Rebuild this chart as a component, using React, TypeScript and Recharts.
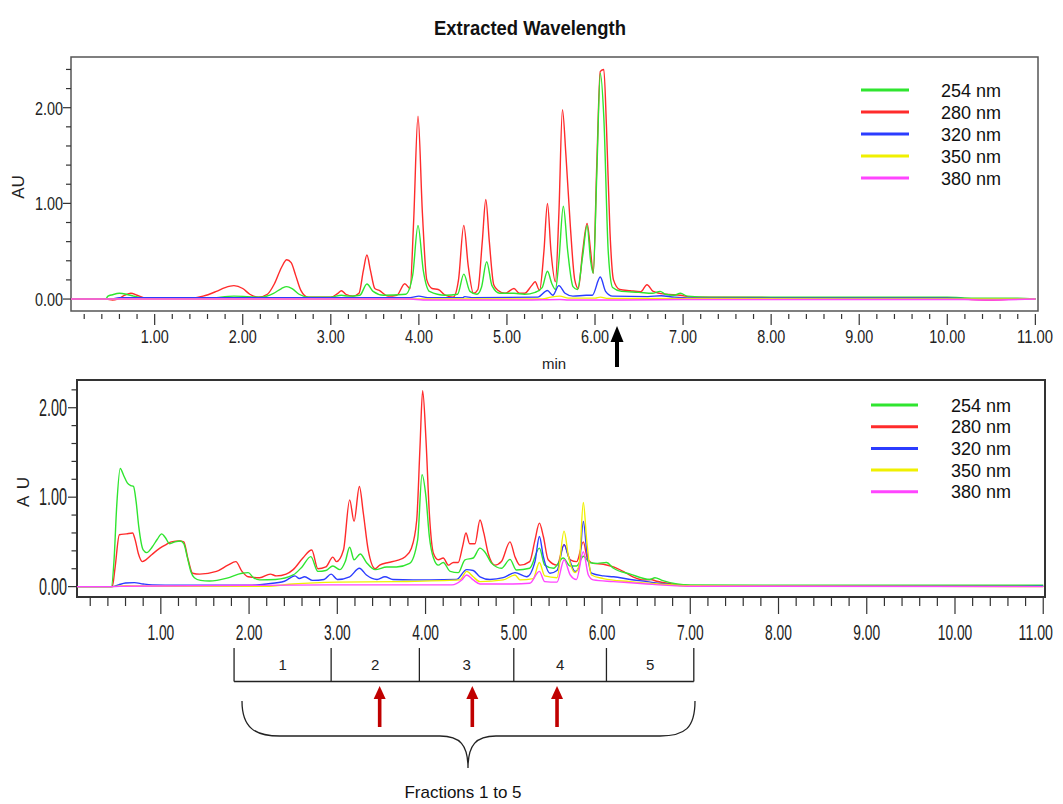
import React from 'react';
import { LineChart, Line, XAxis, YAxis, ReferenceArea } from 'recharts';

// wavelength channels (legend order)
const wavelengths = ['254 nm', '280 nm', '320 nm', '350 nm', '380 nm'];
const colors = ['#2fe52f', '#ff2b2b', '#2b3cff', '#f0f000', '#ff45ff'];

// ---- top chromatogram: [time (min), absorbance (AU)] ----
const top254 = [
  [0.05, 0], [0.44, 0], [0.47, 0.03], [0.52, 0.045], [0.6, 0.06], [0.68, 0.05], [0.76, 0.03], [0.85, 0.015],
  [1.0, 0.01], [1.6, 0.01], [1.9, 0.03], [2.2, 0.02], [2.35, 0.06], [2.44, 0.11], [2.5, 0.13], [2.56, 0.11],
  [2.64, 0.05], [2.75, 0.02], [3.0, 0.02], [3.12, 0.04], [3.2, 0.03], [3.33, 0.04], [3.41, 0.157], [3.48, 0.08],
  [3.6, 0.04], [3.85, 0.05], [3.93, 0.25], [3.99, 0.77], [4.05, 0.3], [4.12, 0.08], [4.3, 0.04], [4.44, 0.05],
  [4.51, 0.26], [4.58, 0.08], [4.66, 0.05], [4.71, 0.12], [4.77, 0.39], [4.83, 0.14], [4.92, 0.06], [5.08, 0.06],
  [5.2, 0.05], [5.32, 0.07], [5.4, 0.12], [5.46, 0.29], [5.51, 0.16], [5.55, 0.1], [5.59, 0.4], [5.64, 0.97],
  [5.69, 0.5], [5.75, 0.13], [5.8, 0.1], [5.86, 0.45], [5.91, 0.77], [5.95, 0.4], [5.98, 0.27], [6.02, 1.3],
  [6.06, 2.36], [6.1, 1.9], [6.15, 0.5], [6.2, 0.12], [6.3, 0.08], [6.5, 0.07], [6.65, 0.06], [6.74, 0.08],
  [6.8, 0.05], [6.9, 0.04], [6.97, 0.06], [7.05, 0.03], [7.3, 0.02], [8.0, 0.02], [9.0, 0.02], [10.0, 0.02],
  [10.3, 0.01], [10.8, 0.01], [11.0, 0.0],
];
const top280 = [
  [0.05, 0], [0.45, 0], [0.52, -0.01], [0.58, 0], [0.66, 0.04], [0.73, 0.06], [0.8, 0.04], [0.9, 0.01],
  [1.4, 0.01], [1.55, 0.03], [1.7, 0.08], [1.8, 0.12], [1.9, 0.14], [2.0, 0.11], [2.08, 0.05], [2.18, 0.02],
  [2.28, 0.05], [2.36, 0.16], [2.44, 0.33], [2.5, 0.41], [2.55, 0.38], [2.6, 0.25], [2.66, 0.09], [2.74, 0.02],
  [3.0, 0.02], [3.08, 0.06], [3.12, 0.087], [3.17, 0.05], [3.25, 0.03], [3.32, 0.06], [3.37, 0.3], [3.41, 0.46],
  [3.45, 0.3], [3.5, 0.11], [3.55, 0.09], [3.65, 0.03], [3.75, 0.04], [3.84, 0.16], [3.9, 0.11], [3.94, 0.8],
  [3.99, 1.91], [4.04, 0.9], [4.09, 0.2], [4.15, 0.11], [4.22, 0.1], [4.3, 0.04], [4.39, 0.02], [4.45, 0.2],
  [4.51, 0.77], [4.56, 0.35], [4.62, 0.06], [4.67, 0.1], [4.72, 0.6], [4.76, 1.04], [4.8, 0.6], [4.85, 0.15],
  [4.9, 0.09], [4.98, 0.06], [5.08, 0.11], [5.14, 0.06], [5.2, 0.06], [5.28, 0.14], [5.32, 0.18], [5.37, 0.09],
  [5.42, 0.5], [5.46, 1.0], [5.5, 0.5], [5.55, 0.18], [5.59, 0.9], [5.63, 1.98], [5.67, 1.5], [5.72, 0.76],
  [5.77, 0.2], [5.81, 0.11], [5.86, 0.5], [5.91, 0.79], [5.95, 0.5], [5.98, 0.27], [6.02, 1.4], [6.06, 2.38],
  [6.1, 2.4], [6.13, 1.8], [6.17, 0.7], [6.21, 0.2], [6.28, 0.1], [6.4, 0.087], [6.52, 0.077], [6.59, 0.15],
  [6.66, 0.08], [6.8, 0.05], [6.97, 0.04], [7.1, 0.02], [8.0, 0.015], [9.0, 0.015], [10.0, 0.015], [10.2, 0],
  [10.5, -0.01], [10.8, 0], [11.0, 0],
];
const top320 = [
  [0.05, 0], [0.5, 0], [0.6, 0.015], [1.0, 0.015], [3.9, 0.015], [4.0, 0.03], [4.1, 0.015], [4.5, 0.015],
  [4.52, 0.025], [4.6, 0.015], [5.35, 0.02], [5.46, 0.09], [5.52, 0.04], [5.59, 0.14], [5.66, 0.06], [5.75, 0.03],
  [5.9, 0.04], [5.97, 0.04], [6.06, 0.23], [6.12, 0.08], [6.2, 0.03], [6.6, 0.025], [6.75, 0.035], [6.9, 0.02],
  [7.2, 0.01], [10.0, 0.01], [10.3, 0], [11.0, 0],
];
const top350 = [
  [0.05, 0], [5.4, 0], [5.5, 0.02], [5.6, 0.03], [5.7, 0.01], [6.0, 0.01], [6.06, 0.02], [6.15, 0.005],
  [11.0, 0],
];
const top380 = [
  [0.05, 0], [3.9, 0], [4.05, -0.01], [5.2, -0.01], [5.6, -0.005], [5.7, -0.01], [6.3, -0.01], [7.0, -0.005],
  [10.2, -0.005], [10.4, -0.01], [11.0, 0],
];

// ---- bottom chromatogram ----
const bot254 = [
  [0.05, 0], [0.44, 0], [0.47, 0.3], [0.5, 0.9], [0.54, 1.32], [0.58, 1.24], [0.62, 1.16], [0.66, 1.13],
  [0.69, 1.12], [0.72, 0.95], [0.75, 0.67], [0.8, 0.41], [0.84, 0.38], [0.9, 0.44], [0.96, 0.53], [1.01, 0.59],
  [1.05, 0.55], [1.1, 0.48], [1.16, 0.5], [1.22, 0.51], [1.26, 0.48], [1.3, 0.33], [1.34, 0.17], [1.38, 0.1],
  [1.45, 0.07], [1.55, 0.063], [1.75, 0.095], [1.92, 0.15], [1.99, 0.156], [2.05, 0.1], [2.12, 0.075], [2.3, 0.08],
  [2.5, 0.13], [2.6, 0.22], [2.7, 0.335], [2.78, 0.17], [2.87, 0.18], [2.95, 0.23], [3.03, 0.19], [3.09, 0.28],
  [3.14, 0.44], [3.19, 0.3], [3.26, 0.365], [3.33, 0.27], [3.43, 0.19], [3.56, 0.22], [3.67, 0.22], [3.82, 0.26],
  [3.91, 0.52], [3.96, 1.25], [4.005, 1.0], [4.043, 0.56], [4.09, 0.32], [4.145, 0.24], [4.2, 0.27], [4.28, 0.17],
  [4.37, 0.156], [4.447, 0.3], [4.54, 0.32], [4.617, 0.43], [4.67, 0.39], [4.75, 0.26], [4.86, 0.205], [4.957, 0.305],
  [5.03, 0.186], [5.18, 0.205], [5.29, 0.43], [5.35, 0.24], [5.45, 0.205], [5.56, 0.32], [5.64, 0.23], [5.71, 0.23],
  [5.79, 0.34], [5.86, 0.27], [5.95, 0.26], [6.05, 0.27], [6.13, 0.205], [6.32, 0.14], [6.54, 0.08], [6.6, 0.1],
  [6.68, 0.07], [6.85, 0.03], [7.0, 0.02], [8.0, 0.015], [10.0, 0.015], [11.0, 0.015],
];
const bot280 = [
  [0.05, 0], [0.45, 0], [0.48, 0.2], [0.53, 0.58], [0.61, 0.59], [0.68, 0.6], [0.71, 0.52], [0.745, 0.37],
  [0.79, 0.28], [0.83, 0.3], [0.9, 0.36], [0.99, 0.43], [1.06, 0.47], [1.12, 0.5], [1.21, 0.51], [1.26, 0.5],
  [1.31, 0.3], [1.36, 0.15], [1.44, 0.14], [1.63, 0.17], [1.76, 0.24], [1.85, 0.28], [1.92, 0.17], [1.99, 0.11],
  [2.12, 0.1], [2.24, 0.14], [2.31, 0.12], [2.42, 0.14], [2.5, 0.19], [2.61, 0.32], [2.71, 0.41], [2.78, 0.2],
  [2.87, 0.22], [2.95, 0.33], [2.99, 0.28], [3.07, 0.41], [3.14, 0.97], [3.19, 0.73], [3.25, 1.12], [3.295, 0.82],
  [3.35, 0.41], [3.43, 0.2], [3.48, 0.24], [3.58, 0.27], [3.67, 0.29], [3.77, 0.335], [3.84, 0.43], [3.9, 0.745],
  [3.937, 1.56], [3.967, 2.19], [4.005, 1.64], [4.043, 0.82], [4.09, 0.37], [4.145, 0.3], [4.2, 0.32], [4.26, 0.24],
  [4.315, 0.27], [4.37, 0.27], [4.42, 0.45], [4.458, 0.6], [4.5, 0.48], [4.56, 0.48], [4.617, 0.745], [4.66, 0.6],
  [4.71, 0.37], [4.787, 0.24], [4.86, 0.28], [4.957, 0.5], [5.013, 0.335], [5.07, 0.24], [5.18, 0.28], [5.24, 0.52],
  [5.29, 0.71], [5.335, 0.56], [5.39, 0.3], [5.49, 0.24], [5.57, 0.47], [5.64, 0.3], [5.713, 0.28], [5.788, 0.5],
  [5.833, 0.32], [5.9, 0.26], [6.015, 0.25], [6.13, 0.22], [6.24, 0.17], [6.35, 0.11], [6.47, 0.075], [6.55, 0.08],
  [6.62, 0.06], [6.8, 0.03], [7.0, 0.01], [8.0, 0.005], [10.0, 0.005], [11.0, 0.005],
];
const bot320 = [
  [0.05, 0], [0.45, 0], [0.52, 0.02], [0.6, 0.04], [0.7, 0.045], [0.8, 0.03], [0.9, 0.02], [1.2, 0.015],
  [2.0, 0.015], [2.2, 0.03], [2.4, 0.06], [2.52, 0.12], [2.57, 0.09], [2.63, 0.11], [2.72, 0.07], [2.85, 0.08],
  [2.93, 0.14], [3.0, 0.08], [3.14, 0.11], [3.25, 0.205], [3.33, 0.13], [3.45, 0.08], [3.54, 0.11], [3.63, 0.08],
  [3.86, 0.075], [4.05, 0.075], [4.35, 0.08], [4.466, 0.19], [4.54, 0.18], [4.617, 0.11], [4.73, 0.08], [4.88, 0.1],
  [5.013, 0.156], [5.146, 0.11], [5.24, 0.28], [5.29, 0.56], [5.335, 0.335], [5.41, 0.15], [5.49, 0.18], [5.57, 0.47],
  [5.62, 0.335], [5.695, 0.17], [5.74, 0.22], [5.788, 0.73], [5.826, 0.41], [5.88, 0.15], [6.015, 0.12], [6.13, 0.11],
  [6.32, 0.08], [6.51, 0.056], [6.64, 0.037], [6.8, 0.02], [7.0, 0.01], [11.0, 0.005],
];
const bot350 = [
  [0.05, 0], [0.45, 0], [0.6, 0.01], [1.0, 0.005], [2.2, 0.005], [2.5, 0.03], [3.0, 0.05], [3.67, 0.056],
  [4.39, 0.075], [4.466, 0.17], [4.54, 0.11], [4.617, 0.056], [4.88, 0.075], [5.013, 0.13], [5.07, 0.075], [5.22, 0.09],
  [5.29, 0.27], [5.35, 0.12], [5.49, 0.1], [5.57, 0.62], [5.62, 0.335], [5.695, 0.156], [5.74, 0.24], [5.788, 0.94],
  [5.826, 0.52], [5.88, 0.13], [6.015, 0.09], [6.32, 0.056], [6.64, 0.03], [7.0, 0.01], [11.0, 0],
];
const bot380 = [
  [0.05, 0], [0.45, 0], [0.6, 0.005], [2.9, 0.02], [4.3, 0.02], [4.41, 0.075], [4.466, 0.13], [4.54, 0.075],
  [4.617, 0.03], [4.99, 0.03], [5.18, 0.037], [5.29, 0.17], [5.35, 0.056], [5.49, 0.05], [5.57, 0.3], [5.64, 0.13],
  [5.71, 0.08], [5.788, 0.39], [5.845, 0.13], [5.9, 0.075], [6.13, 0.056], [6.51, 0.03], [6.64, 0.02], [7.0, 0.005],
  [11.0, 0],
];

// fraction collection windows (min) and marked fractions
const fractionBounds = [1.83, 2.93, 3.93, 5.0, 6.05, 7.04];
const fractionLabels = ['1', '2', '3', '4', '5'];
const arrowTimes = [3.48, 4.53, 5.49];

const xTicks = Array.from({ length: 55 }, (_, i) => Math.round((i + 1) * 2) / 10);
const topYTicks = [0, 0.2, 0.4, 0.6, 0.8, 1, 1.2, 1.4, 1.6, 1.8, 2, 2.2, 2.4];
const botYTicks = [0, 0.2, 0.4, 0.6, 0.8, 1, 1.2, 1.4, 1.6, 1.8, 2, 2.2];

const topX = [0.05, 11.03];
const topY = [-0.125, 2.53];
const botX = [0.05, 11.02];
const botY = [-0.116, 2.31];

const FONT = "'Liberation Sans', Arial, Helvetica, sans-serif";
const isMajor = (v: number) => Math.abs(v - Math.round(v)) < 1e-6 && v >= 1;
const toPts = (arr: number[][]) => arr.map(([t, v]) => ({ t, v }));

function makeXTick(gap: number, minorLen: number, majorLen: number, labelDy: number, fontSize: number, digitW: number, scaleY = 1) {
  return (props: any) => {
    const { x, y, payload } = props;
    const v = payload.value;
    const major = isMajor(v);
    const label = v.toFixed(2);
    const w = (label.length - 1) * digitW + 4;
    // last label hugs the right edge: anchor it at its end so it stays inside the page
    const atEnd = x + w / 2 > 1040;
    const tx = atEnd ? Math.min(x + w / 2, 1053) : x;
    return (
      <g>
        <line x1={x} x2={x} y1={y + gap} y2={y + gap + (major ? majorLen : minorLen)} stroke="#333" strokeWidth={1.2} />
        {major && (
          <text transform={`translate(${tx},${y + labelDy}) scale(1,${scaleY})`} x={0} y={0}
            textAnchor={atEnd ? 'end' : 'middle'} fontSize={fontSize} fontFamily={FONT} fill="#222"
            textLength={w} lengthAdjust="spacingAndGlyphs">{label}</text>
        )}
      </g>
    );
  };
}

function makeYTick(minorLen: number, majorLen: number, labelGap: number, baseDy: number, fontSize: number) {
  return (props: any) => {
    const { x, y, payload } = props;
    const v = payload.value;
    const major = Math.abs(v - Math.round(v)) < 1e-6;
    return (
      <g>
        <line x1={x - (major ? majorLen : minorLen)} x2={x} y1={y} y2={y} stroke="#333" strokeWidth={1.2} />
        {major && (
          <text x={x - labelGap} y={y + baseDy} textAnchor="end" fontSize={fontSize} fontFamily={FONT} fill="#222"
            textLength={28} lengthAdjust="spacingAndGlyphs">{v.toFixed(2)}</text>
        )}
      </g>
    );
  };
}

const topSeries = [top254, top280, top320, top350, top380];
const botSeries = [bot254, bot280, bot320, bot350, bot380];
// draw order: 280 first, then 254, 320, 350, 380
const drawOrder = [1, 0, 2, 3, 4];

function Chromatogram({ series, xDomain, yDomain, yTicks, height, margin, xAxisHeight, xTick, yTick, border }: any) {
  return (
    <LineChart width={1063} height={height} margin={margin}>
      <XAxis dataKey="t" type="number" domain={xDomain} allowDataOverflow ticks={xTicks} interval={0}
        axisLine={false} tickLine={false} tickSize={0} tickMargin={0} height={xAxisHeight} tick={xTick} />
      <YAxis type="number" domain={yDomain} allowDataOverflow ticks={yTicks} interval={0} width={50}
        axisLine={false} tickLine={false} tickSize={0} tickMargin={0} tick={yTick} />
      <ReferenceArea x1={xDomain[0]} x2={xDomain[1]} y1={yDomain[0]} y2={yDomain[1]} ifOverflow="visible"
        fill="none" fillOpacity={0} stroke={border.color} strokeWidth={border.width} />
      {drawOrder.map((i) => (
        <Line key={wavelengths[i]} data={toPts(series[i])} dataKey="v" name={wavelengths[i]} type="monotone"
          stroke={colors[i]} strokeWidth={1.4} dot={false} activeDot={false} isAnimationActive={false} />
      ))}
    </LineChart>
  );
}

function LegendBox({ x, y, step, lineW, textX }: any) {
  return (
    <g>
      {wavelengths.map((w, i) => (
        <g key={w}>
          <line x1={x} x2={x + lineW} y1={y + i * step} y2={y + i * step} stroke={colors[i]} strokeWidth={3} />
          <text x={textX} y={y + i * step + 6.5} fontSize={18} fontFamily={FONT} fill="#111">{w}</text>
        </g>
      ))}
    </g>
  );
}

// bottom chart: plot spans x 77..1045 over botX
const bx = (t: number) => 77 + ((t - botX[0]) * 968) / (botX[1] - botX[0]);

function Overlay() {
  const lineY = 681.5;
  return (
    <svg width={1063} height={804} style={{ position: 'absolute', left: 0, top: 0, pointerEvents: 'none' }}>
      <text x={530} y={35} textAnchor="middle" fontSize={21} fontWeight="bold" fontFamily={FONT} fill="#111"
        textLength={192} lengthAdjust="spacingAndGlyphs">Extracted Wavelength</text>

      <text transform="translate(24,187) rotate(-90)" textAnchor="middle" fontSize={17} fontFamily={FONT} fill="#222">AU</text>
      <text transform="translate(28.5,492) rotate(-90)" textAnchor="middle" fontSize={17} fontFamily={FONT} fill="#222"
        textLength={30} lengthAdjust="spacing">A U</text>

      <text x={554} y={369} textAnchor="middle" fontSize={15} fontFamily={FONT} fill="#222">min</text>
      <rect x={615} y={339} width={4} height={28} fill="#000" />
      <polygon points="617,326 610.5,342 623.5,342" fill="#000" />

      <LegendBox x={861} y={90} step={22} lineW={48} textX={941} />
      <LegendBox x={871} y={405} step={21.7} lineW={47} textX={951} />

      {/* fraction windows */}
      <line x1={bx(fractionBounds[0])} x2={bx(fractionBounds[fractionBounds.length - 1])} y1={lineY} y2={lineY}
        stroke="#222" strokeWidth={1.5} />
      {fractionBounds.map((t) => (
        <line key={t} x1={bx(t)} x2={bx(t)} y1={648} y2={lineY} stroke="#222" strokeWidth={1.3} />
      ))}
      {fractionLabels.map((l, i) => (
        <text key={l} x={(bx(fractionBounds[i]) + bx(fractionBounds[i + 1])) / 2} y={670} textAnchor="middle"
          fontSize={15} fontFamily={FONT} fill="#222">{l}</text>
      ))}
      {arrowTimes.map((t) => {
        const x = bx(t);
        return (
          <g key={t}>
            <rect x={x - 1.8} y={697} width={3.6} height={30} fill="#c00000" />
            <polygon points={`${x},686 ${x - 6},699 ${x + 6},699`} fill="#c00000" />
          </g>
        );
      })}
      <path d="M 242 701 C 242 728, 255 736, 280 736 L 440 736 C 460 736, 468 745, 468 768 C 468 745, 476 736, 496 736 L 660 736 C 685 736, 695 728, 695 701"
        fill="none" stroke="#222" strokeWidth={1.3} />
      <text x={463} y={798} textAnchor="middle" fontSize={17} fontFamily={FONT} fill="#111">Fractions 1 to 5</text>
    </svg>
  );
}

export default function App() {
  return (
    <div style={{ position: 'absolute', left: 0, top: 0, width: 1063, height: 804, background: '#fff' }}>
      <div style={{ position: 'absolute', left: 0, top: 0 }}>
        <Chromatogram series={topSeries} xDomain={topX} yDomain={topY} yTicks={topYTicks} height={380}
          margin={{ top: 57, right: 25, bottom: 29, left: 21 }} xAxisHeight={40}
          xTick={makeXTick(3, 5, 11, 32, 19, 8)} yTick={makeYTick(5, 8, 8, 6.8, 19)}
          border={{ color: '#555', width: 1.5 }} />
      </div>
      <div style={{ position: 'absolute', left: 0, top: 340 }}>
        <Chromatogram series={botSeries} xDomain={botX} yDomain={botY} yTicks={botYTicks} height={320}
          margin={{ top: 40, right: 18, bottom: 33, left: 27 }} xAxisHeight={30}
          xTick={makeXTick(0, 9, 17, 43, 17, 7.6, 1.32)} yTick={makeYTick(5.5, 9, 10, 8.3, 23)}
          border={{ color: '#333', width: 2 }} />
      </div>
      <Overlay />
    </div>
  );
}
